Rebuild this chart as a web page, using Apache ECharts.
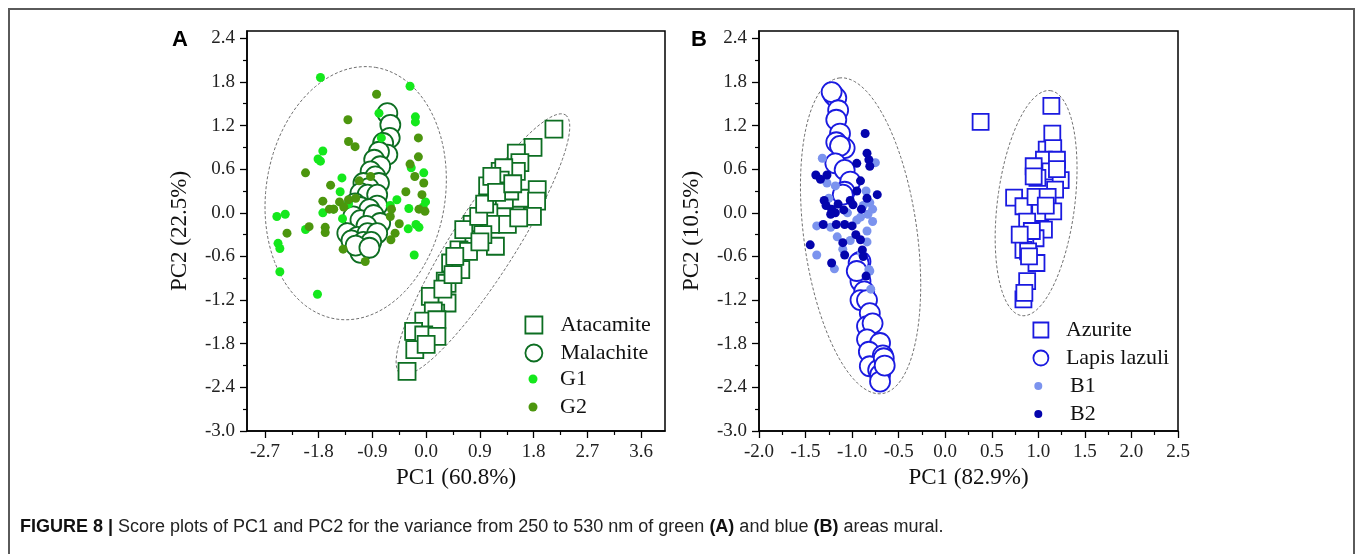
<!DOCTYPE html>
<html>
<head>
<meta charset="utf-8">
<script src="https://cdn.jsdelivr.net/npm/echarts@6/dist/echarts.min.js"></script>
<style>
html,body{margin:0;padding:0;background:#fff;}
#chart{width:1355px;height:554px;}
</style>
</head>
<body>
<div id="chart"></div>
<script>
// ---------- Panel A data (PC1, PC2) ----------
const atacamite = [[2.14,1.15],[1.79,0.90],[1.51,0.82],[1.57,0.69],[1.24,0.57],[1.51,0.57],[1.30,0.62],[1.03,0.37],[1.24,0.45],[1.10,0.50],[1.58,0.20],[1.86,0.32],[1.85,0.16],[1.78,-0.05],[1.31,0.18],[1.40,0.30],[1.05,0.00],[1.36,-0.16],[1.55,-0.07],[1.08,-0.16],[0.77,-0.16],[0.80,-0.37],[1.16,-0.46],[0.63,-0.23],[0.95,-0.30],[0.55,-0.51],[0.71,-0.53],[0.41,-0.69],[0.58,-0.78],[0.32,-0.94],[0.35,-0.97],[0.24,-1.15],[0.07,-1.15],[0.35,-1.24],[0.16,-1.38],[0.12,-1.35],[-0.04,-1.49],[0.18,-1.47],[-0.21,-1.63],[-0.04,-1.68],[0.18,-1.70],[-0.19,-1.88],[0.00,-1.81],[-0.32,-2.18],[0.88,-0.05],[0.98,0.12],[1.18,0.28],[1.45,0.40],[0.90,-0.40],[0.48,-0.60],[0.28,-1.05],[0.45,-0.85]];
const malachite = [[-0.65,1.37],[-0.60,1.21],[-0.61,1.03],[-0.72,0.96],[-0.65,0.80],[-0.79,0.84],[-0.87,0.73],[-0.77,0.64],[-0.93,0.57],[-0.85,0.50],[-0.79,0.41],[-1.05,0.41],[-0.96,0.34],[-1.10,0.27],[-0.98,0.25],[-0.82,0.25],[-1.19,0.13],[-1.10,0.08],[-0.82,0.10],[-0.95,0.05],[-1.22,-0.05],[-1.10,-0.10],[-0.88,-0.03],[-0.77,-0.14],[-1.00,-0.18],[-1.32,-0.28],[-1.15,-0.33],[-0.98,-0.28],[-0.82,-0.28],[-1.25,-0.38],[-1.05,-0.40],[-0.92,-0.40],[-1.10,-0.55],[-1.18,-0.45],[-0.95,-0.48]];
const g1 = [[-1.77,1.86],[-0.27,1.74],[-0.79,1.37],[-0.18,1.32],[-0.18,1.25],[-1.73,0.85],[-1.81,0.74],[-1.77,0.71],[-0.75,1.03],[-0.04,0.55],[-1.41,0.48],[-1.44,0.29],[-0.49,0.18],[-0.01,0.15],[-2.50,-0.05],[-2.36,-0.02],[-1.73,0.00],[-0.29,0.06],[-0.17,-0.16],[-0.12,-0.20],[-2.02,-0.23],[-2.48,-0.42],[-2.45,-0.49],[-0.20,-0.58],[-2.45,-0.81],[-1.82,-1.12],[-0.25,0.62],[-1.55,0.05],[-1.30,0.12],[-0.60,0.10],[-0.05,0.08],[-1.40,-0.08],[-0.30,-0.22]];
const g2 = [[-0.83,1.63],[-1.31,1.28],[-1.30,0.98],[-1.19,0.91],[-0.13,1.03],[-0.13,0.77],[-0.27,0.67],[-0.19,0.50],[-0.04,0.41],[-0.34,0.29],[-0.07,0.25],[-0.02,0.02],[-0.12,0.05],[-2.02,0.55],[-1.60,0.38],[-1.12,0.44],[-0.93,0.50],[-1.73,0.16],[-1.55,0.05],[-1.45,0.15],[-1.38,0.08],[-1.30,0.18],[-1.18,0.20],[-2.33,-0.28],[-1.96,-0.19],[-1.69,-0.20],[-1.69,-0.27],[-1.39,-0.50],[-1.02,-0.67],[-0.59,-0.37],[-0.52,-0.28],[-0.60,-0.05],[-0.58,0.05],[-0.45,-0.15],[-1.62,0.05]];

// ---------- Panel B data (PC1, PC2) ----------
const azurite = [[0.38,1.25],[1.14,1.47],[1.15,1.09],[1.09,0.87],[1.16,0.89],[1.06,0.73],[0.95,0.64],[1.20,0.73],[1.13,0.57],[1.24,0.45],[0.99,0.48],[0.95,0.50],[1.18,0.32],[0.74,0.21],[0.84,0.09],[0.97,0.22],[1.10,0.22],[1.02,0.00],[1.16,0.02],[0.88,-0.12],[1.06,-0.23],[0.97,-0.35],[0.86,-0.44],[0.84,-0.51],[0.89,-0.53],[0.98,-0.69],[0.90,-0.60],[0.88,-0.94],[0.84,-1.19],[0.85,-1.10],[1.08,0.10],[1.20,0.60],[0.93,-0.25],[0.80,-0.30]];
const lapis = [[-1.20,1.62],[-1.17,1.58],[-1.22,1.66],[-1.15,1.41],[-1.17,1.28],[-1.13,1.09],[-1.08,0.89],[-1.17,0.97],[-1.13,0.92],[-1.18,0.68],[-1.08,0.59],[-1.02,0.43],[-1.08,0.29],[-1.10,0.25],[-0.91,-0.67],[-0.93,-0.69],[-0.91,-0.94],[-0.87,-1.08],[-0.91,-1.20],[-0.84,-1.20],[-0.81,-1.38],[-0.84,-1.56],[-0.78,-1.52],[-0.84,-1.74],[-0.70,-1.79],[-0.82,-1.91],[-0.67,-1.96],[-0.81,-2.11],[-0.72,-2.16],[-0.70,-2.23],[-0.70,-2.32],[-0.66,-2.00],[-0.65,-2.10],[-0.95,-0.80]];
const b1 = [[-1.32,0.75],[-0.75,0.69],[-1.27,0.41],[-1.18,0.37],[-0.81,0.14],[-0.78,0.05],[-0.83,-0.02],[-0.91,-0.06],[-1.38,-0.18],[-1.23,-0.20],[-0.84,-0.25],[-1.16,-0.33],[-1.02,-0.38],[-0.84,-0.40],[-1.38,-0.58],[-0.82,-0.78],[-1.19,-0.77],[-0.81,-0.80],[-0.80,-1.05],[-0.88,0.10],[-1.05,0.00],[-0.95,-0.10],[-1.25,0.20],[-0.78,-0.12],[-1.10,-0.50],[-0.90,-0.55],[-0.85,0.30]];
const b2 = [[-0.86,1.09],[-0.84,0.82],[-0.82,0.73],[-0.81,0.64],[-0.95,0.68],[-1.39,0.52],[-1.34,0.46],[-1.27,0.52],[-0.91,0.44],[-0.73,0.25],[-0.84,0.20],[-1.30,0.17],[-1.02,0.17],[-0.99,0.11],[-1.22,0.05],[-1.18,0.00],[-1.23,-0.02],[-1.09,0.04],[-1.31,-0.16],[-1.17,-0.16],[-1.08,-0.16],[-1.00,-0.18],[-0.96,-0.30],[-0.91,-0.37],[-0.89,-0.51],[-1.10,-0.41],[-1.45,-0.44],[-1.08,-0.58],[-1.22,-0.69],[-0.85,-0.87],[-0.90,0.05],[-0.88,-0.60],[-1.15,0.12],[-0.95,0.30],[-1.28,0.10]];

// ---------- Confidence ellipses: [centerX, centerY, majorEndX, majorEndY, minorEndX, minorEndY] ----------
const ellipseA1 = [-1.18, 0.27, -0.849, 2.0, 0.302, 0.078];
const ellipseA2 = [0.951, -0.433, 2.333, 1.346, 1.403, -0.669];
const ellipseB1 = [-0.909, -0.316, -1.14, 1.854, -0.306, -0.212];
const ellipseB2 = [0.976, 0.133, 1.129, 1.68, 1.388, 0.067];

// ---------- Tick labels ----------
const yTicks = [-3.0,-2.4,-1.8,-1.2,-0.6,0.0,0.6,1.2,1.8,2.4];
const yMinor = [-2.7,-2.1,-1.5,-0.9,-0.3,0.3,0.9,1.5,2.1];
const xTicksA = [-2.7,-1.8,-0.9,0.0,0.9,1.8,2.7,3.6];
const xMinorA = [-2.25,-1.35,-0.45,0.45,1.35,2.25,3.15];
const xTicksB = [-2.0,-1.5,-1.0,-0.5,0.0,0.5,1.0,1.5,2.0,2.5];
const xMinorB = [-1.75,-1.25,-0.75,-0.25,0.25,0.75,1.25,1.75,2.25];

const SERIF = 'Liberation Serif, Times New Roman, serif';
const GREEN = '#0d6e22';
const BLUE = '#1a1ae0';

function majorAxis(gi, min, max, ticks, name, isY) {
  const a = {
    type: 'value', gridIndex: gi, min: min, max: max,
    name: name, nameLocation: 'middle', nameGap: isY ? 56 : 31,
    nameTextStyle: {fontFamily: SERIF, fontSize: 23, color: '#111'},
    axisLine: {show: true, onZero: false, lineStyle: {color: '#000', width: 1.5}},
    axisTick: {show: true, inside: false, length: 7, customValues: ticks, lineStyle: {color: '#000', width: 1.3}},
    axisLabel: {show: true, customValues: ticks, margin: 12, fontFamily: SERIF, fontSize: 19, color: '#222',
      formatter: v => Number(v).toFixed(1)},
    splitLine: {show: false}
  };
  a.position = isY ? 'left' : 'bottom';
  return a;
}
function minorAxis(gi, min, max, ticks, isY) {
  return {
    type: 'value', gridIndex: gi, min: min, max: max, position: isY ? 'left' : 'bottom',
    axisLine: {show: false, onZero: false},
    axisTick: {show: true, inside: false, length: 4, customValues: ticks, lineStyle: {color: '#000', width: 1.2}},
    axisLabel: {show: false},
    splitLine: {show: false}
  };
}
function ellipseSeries(ell, idx) {
  return {
    type: 'custom', xAxisIndex: idx, yAxisIndex: idx, silent: true, z: 1,
    data: [ell],
    renderItem: function (params, api) {
      const c = api.coord([api.value(0), api.value(1)]);
      const m = api.coord([api.value(2), api.value(3)]);
      const n = api.coord([api.value(4), api.value(5)]);
      const a = [m[0] - c[0], m[1] - c[1]], b = [n[0] - c[0], n[1] - c[1]];
      const pts = [];
      for (let i = 0; i < 120; i++) {
        const t = i / 120 * Math.PI * 2;
        pts.push([c[0] + Math.cos(t) * a[0] + Math.sin(t) * b[0], c[1] + Math.cos(t) * a[1] + Math.sin(t) * b[1]]);
      }
      return {type: 'polygon', shape: {points: pts}, style: {fill: 'none', stroke: '#707070', lineWidth: 1, lineDash: [3, 2]}};
    }
  };
}
function openSeries(name, data, idx, symbol, size, color, z) {
  return {name: name, type: 'scatter', xAxisIndex: idx, yAxisIndex: idx, data: data, symbol: symbol, symbolSize: size, z: z,
    itemStyle: {color: '#fff', borderColor: color, borderWidth: 1.8, opacity: 1}};
}
function dotSeries(name, data, idx, size, color, z) {
  return {name: name, type: 'scatter', xAxisIndex: idx, yAxisIndex: idx, data: data, symbol: 'circle', symbolSize: size, z: z,
    itemStyle: {color: color, opacity: 1}};
}
function legend(names, left, top, w, pad, bw) {
  return {data: names, orient: 'vertical', left: left, top: top, padding: 0, itemWidth: w, itemHeight: w, itemGap: 6,
    itemStyle: {borderWidth: bw},
    textStyle: {fontFamily: SERIF, fontSize: 22, color: '#111', lineHeight: 22, padding: [0, 0, 0, pad]}};
}

const chart = echarts.init(document.getElementById('chart'), null, {renderer: 'canvas'});
chart.setOption({
  animation: false,
  backgroundColor: '#fff',
  grid: [
    {left: 247, right: 690, top: 31, bottom: 123, show: true, borderColor: '#000', borderWidth: 1.5, backgroundColor: 'transparent'},
    {left: 759, right: 177, top: 31, bottom: 123, show: true, borderColor: '#000', borderWidth: 1.5, backgroundColor: 'transparent'}
  ],
  xAxis: [
    majorAxis(0, -3.0, 4.0, xTicksA, 'PC1 (60.8%)', false),
    minorAxis(0, -3.0, 4.0, xMinorA, false),
    majorAxis(1, -2.0, 2.5, xTicksB, 'PC1 (82.9%)', false),
    minorAxis(1, -2.0, 2.5, xMinorB, false)
  ],
  yAxis: [
    majorAxis(0, -3.0, 2.5, yTicks, 'PC2 (22.5%)', true),
    minorAxis(0, -3.0, 2.5, yMinor, true),
    majorAxis(1, -3.0, 2.5, yTicks, 'PC2 (10.5%)', true),
    minorAxis(1, -3.0, 2.5, yMinor, true)
  ],
  legend: [
    legend(['Atacamite', 'Malachite'], 524.5, 314, 17, 13, 1.8),
    legend(['G1', 'G2'], 528.5, 368, 9, 17.5, 0),
    legend(['Azurite', 'Lapis lazuli'], 1032.5, 319, 15, 12.5, 1.8),
    legend(['B1', 'B2'], 1034.3, 375, 8, 22.7, 0)
  ],
  series: [
    ellipseSeries(ellipseA1, 0),
    ellipseSeries(ellipseA2, 0),
    ellipseSeries(ellipseB1, 2),
    ellipseSeries(ellipseB2, 2),
    openSeries('Atacamite', atacamite, 0, 'rect', 17, GREEN, 3),
    openSeries('Malachite', malachite, 0, 'circle', 20, GREEN, 3),
    dotSeries('G1', g1, 0, 9, '#14e81c', 4),
    dotSeries('G2', g2, 0, 9, '#4c960e', 4),
    openSeries('Azurite', azurite, 2, 'rect', 16, BLUE, 3),
    openSeries('Lapis lazuli', lapis, 2, 'circle', 20, BLUE, 3),
    dotSeries('B1', b1, 2, 9, '#7b93ee', 4),
    dotSeries('B2', b2, 2, 9, '#0404ad', 4)
  ],
  graphic: [
    {type: 'rect', shape: {x: 9, y: 9, width: 1345, height: 620}, style: {fill: 'none', stroke: '#5a5a5a', lineWidth: 2}, silent: true},
    {type: 'text', left: 172, top: 29, style: {text: 'A', font: 'bold 22px Liberation Sans, Arial, sans-serif', fill: '#000'}},
    {type: 'text', left: 691, top: 29, style: {text: 'B', font: 'bold 22px Liberation Sans, Arial, sans-serif', fill: '#000'}},
    {type: 'text', left: 20, top: 518, style: {
      text: '{b|FIGURE 8 | }{n|Score plots of PC1 and PC2 for the variance from 250 to 530 nm of green }{b|(A)}{n| and blue }{b|(B)}{n| areas mural.}',
      rich: {
        b: {fontFamily: 'Liberation Sans Narrow, Liberation Sans, Arial, sans-serif', fontWeight: 'bold', fontSize: 18, fill: '#111'},
        n: {fontFamily: 'Liberation Sans Narrow, Liberation Sans, Arial, sans-serif', fontSize: 18, fill: '#222'}
      }
    }}
  ]
});
</script>
</body>
</html>
